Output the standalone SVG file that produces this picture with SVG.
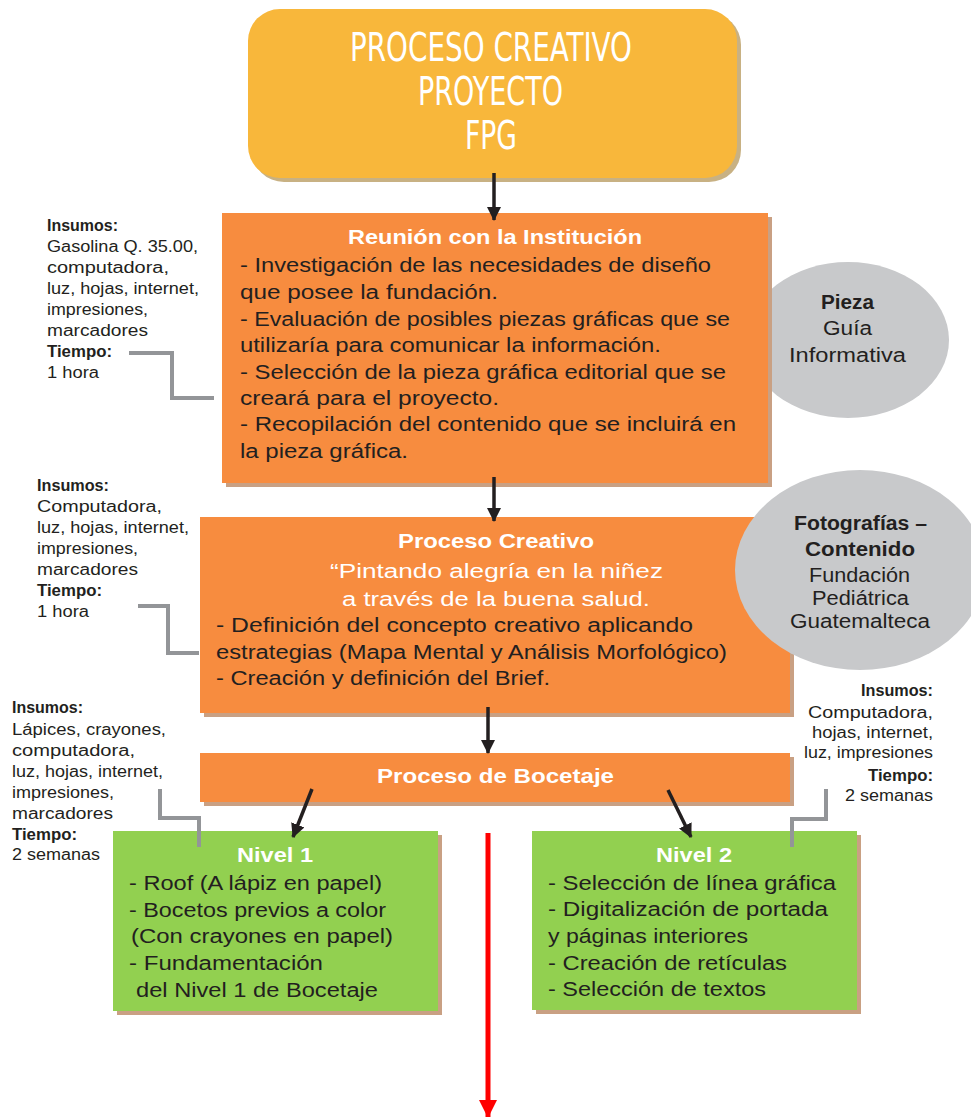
<svg xmlns="http://www.w3.org/2000/svg" width="971" height="1117" viewBox="0 0 971 1117">
<defs>
<style>
.hand{font-family:"Liberation Sans Narrow","DejaVu Sans Condensed","Liberation Sans",sans-serif;font-size:39px;fill:#ffffff}
.t{font-family:"Liberation Sans","DejaVu Sans",sans-serif;font-size:20px;fill:#231f20}
.tw{font-family:"Liberation Sans","DejaVu Sans",sans-serif;font-size:20px;fill:#ffffff}
.hb{font-family:"Liberation Sans","DejaVu Sans",sans-serif;font-size:20px;font-weight:bold;fill:#ffffff}
.n{font-family:"Liberation Sans","DejaVu Sans",sans-serif;font-size:16px;fill:#231f20}
.nb{font-family:"Liberation Sans","DejaVu Sans",sans-serif;font-size:16px;font-weight:bold;fill:#231f20}
.e{font-family:"Liberation Sans","DejaVu Sans",sans-serif;font-size:19.5px;fill:#231f20}
.eb{font-family:"Liberation Sans","DejaVu Sans",sans-serif;font-size:19.5px;font-weight:bold;fill:#231f20}
.orange{fill:#f78c3f}
.green{fill:#92d050}
.shadow{fill:#c9a083}
.gray{fill:#c8c9cb}
.br{fill:none;stroke:#939598;stroke-width:4}
.arr{stroke:#231f20;stroke-width:3.5;fill:none;marker-end:url(#ah)}
</style>
<marker id="ah" markerUnits="userSpaceOnUse" markerWidth="14" markerHeight="14" viewBox="0 0 14 14" refX="13" refY="7" orient="auto">
<path d="M0,0 L14,7 L0,14 Z" fill="#231f20"/>
</marker>
<marker id="ahr" markerUnits="userSpaceOnUse" markerWidth="18" markerHeight="18" viewBox="0 0 18 18" refX="17" refY="9" orient="auto">
<path d="M0,0 L18,9 L0,18 Z" fill="#ff0000"/>
</marker>
</defs>
<rect width="971" height="1117" fill="#ffffff"/>

<g id="title">
<rect x="252" y="13" width="489" height="169" rx="32" fill="#c8b183"/>
<rect x="248" y="9" width="489" height="169" rx="32" fill="#f8b73b"/>
<text class="hand" x="350" y="61" textLength="282" lengthAdjust="spacingAndGlyphs">PROCESO CREATIVO</text>
<text class="hand" x="418" y="105" textLength="145" lengthAdjust="spacingAndGlyphs">PROYECTO</text>
<text class="hand" x="465" y="149" textLength="52" lengthAdjust="spacingAndGlyphs">FPG</text>
</g>

<g id="pieza">
<ellipse class="gray" cx="848" cy="340" rx="101" ry="78"/>
<text class="eb" x="821" y="309" textLength="53" lengthAdjust="spacingAndGlyphs">Pieza</text>
<text class="e" x="823" y="335" textLength="49" lengthAdjust="spacingAndGlyphs">Guía</text>
<text class="e" x="789" y="362" textLength="117" lengthAdjust="spacingAndGlyphs">Informativa</text>
</g>

<g id="reunion">
<rect class="shadow" x="226" y="217" width="546" height="270"/>
<rect class="orange" x="222" y="213" width="546" height="270"/>
<text class="hb" x="348" y="244" textLength="294" lengthAdjust="spacingAndGlyphs">Reunión con la Institución</text>
<text class="t" x="240" y="272" textLength="471" lengthAdjust="spacingAndGlyphs">- Investigación de las necesidades de diseño</text>
<text class="t" x="240" y="299" textLength="258" lengthAdjust="spacingAndGlyphs">que posee la fundación.</text>
<text class="t" x="240" y="326" textLength="490" lengthAdjust="spacingAndGlyphs">- Evaluación de posibles piezas gráficas que se</text>
<text class="t" x="240" y="352" textLength="421" lengthAdjust="spacingAndGlyphs">utilizaría para comunicar la información.</text>
<text class="t" x="240" y="379" textLength="486" lengthAdjust="spacingAndGlyphs">- Selección de la pieza gráfica editorial que se</text>
<text class="t" x="240" y="405" textLength="259" lengthAdjust="spacingAndGlyphs">creará para el proyecto.</text>
<text class="t" x="240" y="431" textLength="496" lengthAdjust="spacingAndGlyphs">- Recopilación del contenido que se incluirá en</text>
<text class="t" x="240" y="458" textLength="168" lengthAdjust="spacingAndGlyphs">la pieza gráfica.</text>
</g>

<g id="notes-reunion">
<text class="nb" x="47" y="231" textLength="71" lengthAdjust="spacingAndGlyphs">Insumos:</text>
<text class="n" x="47" y="252" textLength="151" lengthAdjust="spacingAndGlyphs">Gasolina Q. 35.00,</text>
<text class="n" x="47" y="273" textLength="122" lengthAdjust="spacingAndGlyphs">computadora,</text>
<text class="n" x="47" y="294" textLength="152" lengthAdjust="spacingAndGlyphs">luz, hojas, internet,</text>
<text class="n" x="47" y="315" textLength="101" lengthAdjust="spacingAndGlyphs">impresiones,</text>
<text class="n" x="47" y="336" textLength="101" lengthAdjust="spacingAndGlyphs">marcadores</text>
<text class="nb" x="47" y="357" textLength="65" lengthAdjust="spacingAndGlyphs">Tiempo:</text>
<text class="n" x="47" y="378" textLength="52" lengthAdjust="spacingAndGlyphs">1 hora</text>
</g>

<g id="creativo">
<rect class="shadow" x="204" y="521" width="590" height="196"/>
<rect class="orange" x="200" y="517" width="590" height="196"/>
<text class="hb" x="398" y="548" textLength="196" lengthAdjust="spacingAndGlyphs">Proceso Creativo</text>
<text class="tw" x="330" y="578" textLength="333" lengthAdjust="spacingAndGlyphs">“Pintando alegría en la niñez</text>
<text class="tw" x="342" y="606" textLength="308" lengthAdjust="spacingAndGlyphs">a través de la buena salud.</text>
<text class="t" x="216" y="632" textLength="477" lengthAdjust="spacingAndGlyphs">- Definición del concepto creativo aplicando</text>
<text class="t" x="216" y="659" textLength="511" lengthAdjust="spacingAndGlyphs">estrategias (Mapa Mental y Análisis Morfológico)</text>
<text class="t" x="216" y="685" textLength="334" lengthAdjust="spacingAndGlyphs">- Creación y definición del Brief.</text>
</g>

<g id="fotografias">
<ellipse class="gray" cx="860" cy="570" rx="125" ry="100"/>
<text class="eb" x="794" y="530" textLength="133" lengthAdjust="spacingAndGlyphs">Fotografías –</text>
<text class="eb" x="805" y="556" textLength="110" lengthAdjust="spacingAndGlyphs">Contenido</text>
<text class="e" x="809" y="582" textLength="101" lengthAdjust="spacingAndGlyphs">Fundación</text>
<text class="e" x="812" y="605" textLength="97" lengthAdjust="spacingAndGlyphs">Pediátrica</text>
<text class="e" x="790" y="628" textLength="140" lengthAdjust="spacingAndGlyphs">Guatemalteca</text>
</g>

<g id="notes-creativo">
<text class="nb" x="37" y="491" textLength="72" lengthAdjust="spacingAndGlyphs">Insumos:</text>
<text class="n" x="37" y="512" textLength="125" lengthAdjust="spacingAndGlyphs">Computadora,</text>
<text class="n" x="37" y="533" textLength="152" lengthAdjust="spacingAndGlyphs">luz, hojas, internet,</text>
<text class="n" x="37" y="554" textLength="101" lengthAdjust="spacingAndGlyphs">impresiones,</text>
<text class="n" x="37" y="575" textLength="101" lengthAdjust="spacingAndGlyphs">marcadores</text>
<text class="nb" x="37" y="596" textLength="65" lengthAdjust="spacingAndGlyphs">Tiempo:</text>
<text class="n" x="37" y="617" textLength="52" lengthAdjust="spacingAndGlyphs">1 hora</text>
</g>

<g id="notes-nivel2">
<text class="nb" x="861" y="696" textLength="72" lengthAdjust="spacingAndGlyphs">Insumos:</text>
<text class="n" x="808" y="718" textLength="125" lengthAdjust="spacingAndGlyphs">Computadora,</text>
<text class="n" x="812" y="738" textLength="121" lengthAdjust="spacingAndGlyphs">hojas, internet,</text>
<text class="n" x="804" y="758" textLength="129" lengthAdjust="spacingAndGlyphs">luz, impresiones</text>
<text class="nb" x="868" y="781" textLength="65" lengthAdjust="spacingAndGlyphs">Tiempo:</text>
<text class="n" x="845" y="801" textLength="88" lengthAdjust="spacingAndGlyphs">2 semanas</text>
</g>

<g id="bocetaje">
<rect class="shadow" x="204" y="757" width="590" height="49"/>
<rect class="orange" x="200" y="753" width="590" height="49"/>
<text class="hb" x="377" y="783" textLength="237" lengthAdjust="spacingAndGlyphs">Proceso de Bocetaje</text>
</g>

<g id="notes-nivel1">
<text class="nb" x="12" y="713" textLength="71" lengthAdjust="spacingAndGlyphs">Insumos:</text>
<text class="n" x="12" y="735" textLength="154" lengthAdjust="spacingAndGlyphs">Lápices, crayones,</text>
<text class="n" x="12" y="756" textLength="123" lengthAdjust="spacingAndGlyphs">computadora,</text>
<text class="n" x="12" y="777" textLength="151" lengthAdjust="spacingAndGlyphs">luz, hojas, internet,</text>
<text class="n" x="12" y="798" textLength="102" lengthAdjust="spacingAndGlyphs">impresiones,</text>
<text class="n" x="12" y="819" textLength="101" lengthAdjust="spacingAndGlyphs">marcadores</text>
<text class="nb" x="12" y="840" textLength="65" lengthAdjust="spacingAndGlyphs">Tiempo:</text>
<text class="n" x="12" y="860" textLength="88" lengthAdjust="spacingAndGlyphs">2 semanas</text>
</g>

<g id="nivel1">
<rect class="shadow" x="117" y="835" width="325" height="180"/>
<rect class="green" x="113" y="831" width="325" height="180"/>
<text class="hb" x="237" y="862" textLength="76" lengthAdjust="spacingAndGlyphs">Nivel 1</text>
<text class="t" x="129" y="890" textLength="253" lengthAdjust="spacingAndGlyphs">- Roof (A lápiz en papel)</text>
<text class="t" x="129" y="917" textLength="257" lengthAdjust="spacingAndGlyphs">- Bocetos previos a color</text>
<text class="t" x="131" y="943" textLength="262" lengthAdjust="spacingAndGlyphs">(Con crayones en papel)</text>
<text class="t" x="129" y="970" textLength="194" lengthAdjust="spacingAndGlyphs">- Fundamentación</text>
<text class="t" x="136" y="997" textLength="242" lengthAdjust="spacingAndGlyphs">del Nivel 1 de Bocetaje</text>
</g>

<g id="nivel2">
<rect class="shadow" x="536" y="835" width="325" height="179"/>
<rect class="green" x="532" y="831" width="325" height="179"/>
<text class="hb" x="656" y="862" textLength="76" lengthAdjust="spacingAndGlyphs">Nivel 2</text>
<text class="t" x="548" y="890" textLength="288" lengthAdjust="spacingAndGlyphs">- Selección de línea gráfica</text>
<text class="t" x="548" y="916" textLength="280" lengthAdjust="spacingAndGlyphs">- Digitalización de portada</text>
<text class="t" x="548" y="943" textLength="200" lengthAdjust="spacingAndGlyphs">y páginas interiores</text>
<text class="t" x="548" y="970" textLength="239" lengthAdjust="spacingAndGlyphs">- Creación de retículas</text>
<text class="t" x="548" y="996" textLength="218" lengthAdjust="spacingAndGlyphs">- Selección de textos</text>
</g>

<g id="connectors">
<line class="arr" x1="494" y1="173" x2="494" y2="220"/>
<line class="arr" x1="494" y1="477" x2="494" y2="521"/>
<line class="arr" x1="488" y1="707" x2="488" y2="753"/>
<line class="arr" x1="312" y1="789" x2="293" y2="837"/>
<line class="arr" x1="668" y1="790" x2="691" y2="837"/>
<line x1="488" y1="833" x2="488" y2="1117" stroke="#ff0000" stroke-width="5" marker-end="url(#ahr)"/>
<polyline class="br" points="129,353 172,353 172,398 214,398"/>
<polyline class="br" points="138,606 168,606 168,653 199,653"/>
<polyline class="br" points="160,789 160,818 199,818 199,847"/>
<polyline class="br" points="826,789 826,819 792,819 792,847"/>
</g>
</svg>
